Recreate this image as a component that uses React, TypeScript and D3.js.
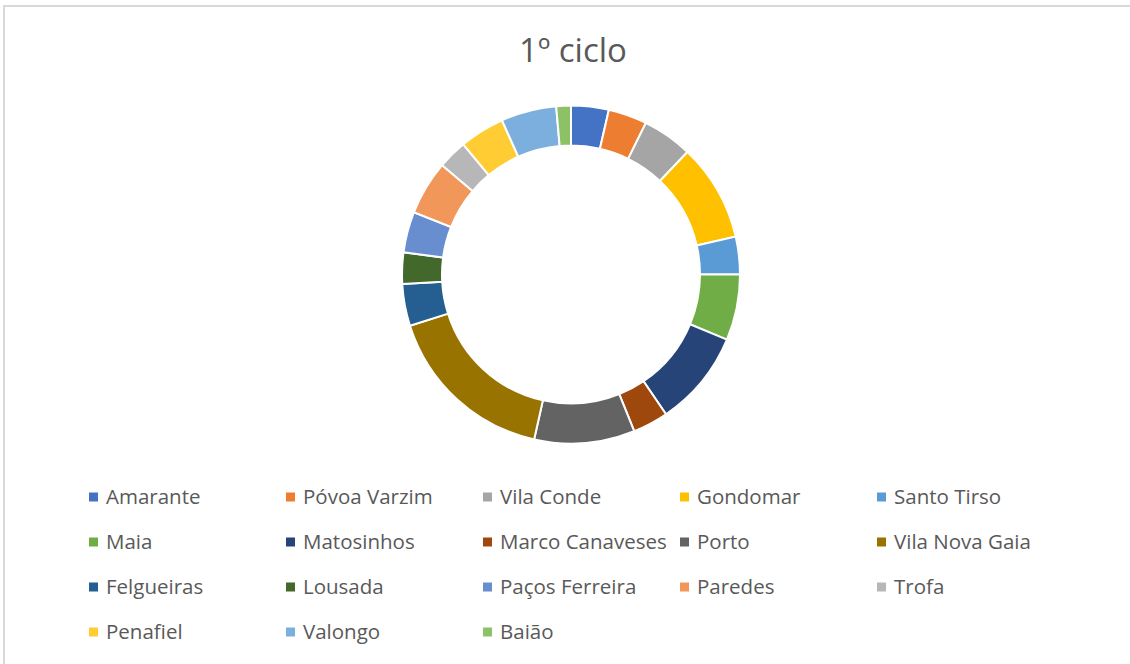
import React, { useRef, useEffect } from 'react';
import * as d3 from 'd3';

// Municipalities and their share
const categories = [
  'Amarante', 'Póvoa Varzim', 'Vila Conde', 'Gondomar', 'Santo Tirso',
  'Maia', 'Matosinhos', 'Marco Canaveses', 'Porto', 'Vila Nova Gaia',
  'Felgueiras', 'Lousada', 'Paços Ferreira', 'Paredes', 'Trofa',
  'Penafiel', 'Valongo', 'Baião'
];
const values = [
  3.6, 3.7, 4.8, 9.3, 3.6,
  6.3, 9.2, 3.4, 9.6, 16.6,
  4.0, 3.0, 3.9, 5.2, 2.8,
  4.3, 5.3, 1.4
];
const colors = [
  '#4472C4', '#ED7D31', '#A5A5A5', '#FFC000', '#5B9BD5',
  '#70AD47', '#264478', '#9E480E', '#636363', '#997300',
  '#255E91', '#43682B', '#698ED0', '#F1975A', '#B7B7B7',
  '#FFCD33', '#7CAFDD', '#8CC168'
];
const title = '1º ciclo';

const W = 1130;
const H = 664;
const FONT = '"Open Sans", "Liberation Sans", sans-serif';

export default function App() {
  const svgRef = useRef<SVGSVGElement>(null);

  useEffect(() => {
    if (!svgRef.current) return;
    const svg = d3.select(svgRef.current);
    svg.selectAll('*').remove();

    svg.append('rect').attr('width', W).attr('height', H).attr('fill', '#fff');

    // chart area border (only top and left edges are visible)
    svg.append('line')
      .attr('x1', 4).attr('x2', W).attr('y1', 6).attr('y2', 6)
      .attr('stroke', '#d9d9d9').attr('stroke-width', 2);
    svg.append('line')
      .attr('x1', 4).attr('x2', 4).attr('y1', 5).attr('y2', H)
      .attr('stroke', '#d9d9d9').attr('stroke-width', 2);

    svg.append('text')
      .attr('x', 573)
      .attr('y', 62)
      .attr('text-anchor', 'middle')
      .attr('font-family', FONT)
      .attr('font-size', 33)
      .attr('fill', '#595959')
      .text(title);

    const data = categories.map((c, i) => ({ name: c, value: values[i], color: colors[i] }));

    const pie = d3.pie<typeof data[0]>().sort(null).value(d => d.value);
    const arc = d3.arc<d3.PieArcDatum<typeof data[0]>>()
      .innerRadius(129)
      .outerRadius(169);

    const g = svg.append('g').attr('transform', 'translate(571, 274.5)');
    g.selectAll('path')
      .data(pie(data))
      .enter()
      .append('path')
      .attr('d', arc)
      .attr('fill', d => d.data.color)
      .attr('stroke', '#fff')
      .attr('stroke-width', 2);

    // legend: 5 columns, 4 rows
    const cols = 5;
    const colX = d3.scaleLinear().domain([0, 1]).range([89, 286]);
    const rowY = d3.scaleLinear().domain([0, 1]).range([497, 542]);

    const legend = svg.append('g');
    const item = legend.selectAll('g')
      .data(data)
      .enter()
      .append('g')
      .attr('transform', (d, i) => `translate(${colX(i % cols)}, ${rowY(Math.floor(i / cols))})`);

    item.append('rect')
      .attr('x', 0).attr('y', -4.5)
      .attr('width', 9).attr('height', 9)
      .attr('fill', d => d.color);

    item.append('text')
      .attr('x', 17)
      .attr('y', 0)
      .attr('dy', '0.35em')
      .attr('font-family', FONT)
      .attr('font-size', 20.5)
      .attr('fill', '#595959')
      .text(d => d.name);
  }, []);

  return (
    <svg
      ref={svgRef}
      width={W}
      height={H}
      style={{ position: 'absolute', left: 0, top: 0, display: 'block' }}
    />
  );
}
